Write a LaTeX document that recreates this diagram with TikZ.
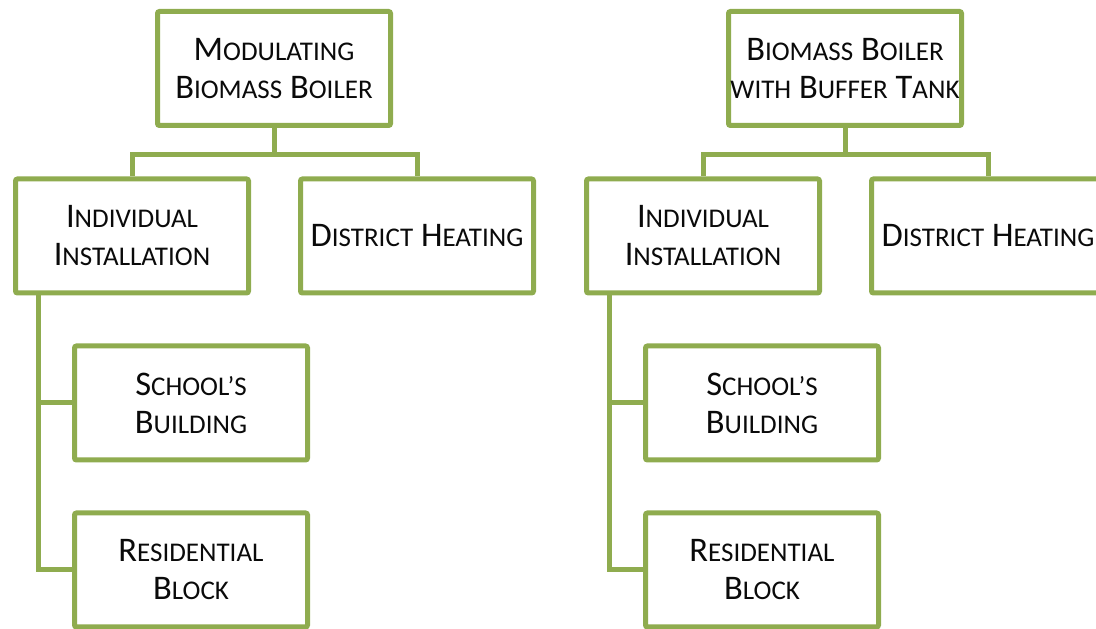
\documentclass[tikz,border=0pt]{standalone}
\usepackage{fontspec}
\setmainfont{Carlito}
\usepackage{tikz}
\usetikzlibrary{positioning, calc}
\definecolor{leafgreen}{RGB}{143,172,79}
\definecolor{inkblack}{RGB}{10,10,10}
% fake small caps: first letter full size, the rest smaller
\newcommand\smc[1]{{\fontsize{27}{38}\selectfont #1}}
\tikzset{
    unitbox/.style={draw=leafgreen, line width=5pt, fill=white, rounded corners=2pt,
        minimum width=233pt, minimum height=114pt, inner sep=0pt, align=center,
        text=inkblack, font=\fontsize{34.5}{38}\selectfont},
    link/.style={draw=leafgreen, line width=5pt}
}

\begin{document}
\begin{tikzpicture}[x=1pt, y=1pt]
    \useasboundingbox (0,0) rectangle (1096,629);

    % Two trees, side by side
    \foreach \dx/\pre/\title in {0/mod/{M\smc{ODULATING}\\B\smc{IOMASS} B\smc{OILER}},
                                 571/buf/{B\smc{IOMASS} B\smc{OILER}\\\smc{WITH} B\smc{UFFER} T\smc{ANK}}} {
        \node[unitbox] (\pre top) at (274+\dx,560.5) {\title};
        \node[unitbox] (\pre ind) at (132+\dx,393) {I\smc{NDIVIDUAL}\\I\smc{NSTALLATION}};
        \node[unitbox] (\pre dh)  at (417+\dx,393) {D\smc{ISTRICT} H\smc{EATING}};
        \node[unitbox] (\pre sch) at (191+\dx,226) {S\smc{CHOOL’S}\\B\smc{UILDING}};
        \node[unitbox] (\pre res) at (191+\dx,59)  {R\smc{ESIDENTIAL}\\B\smc{LOCK}};

        \draw[link] (\pre top.south) -- ++(0,-27) -| (\pre ind.north);
        \draw[link] (\pre top.south) -- ++(0,-27) -| (\pre dh.north);
        \draw[link] (\pre ind.south west) ++(25,0) |- (\pre sch.west);
        \draw[link] (\pre ind.south west) ++(25,0) |- (\pre res.west);
    }
\end{tikzpicture}
\end{document}
